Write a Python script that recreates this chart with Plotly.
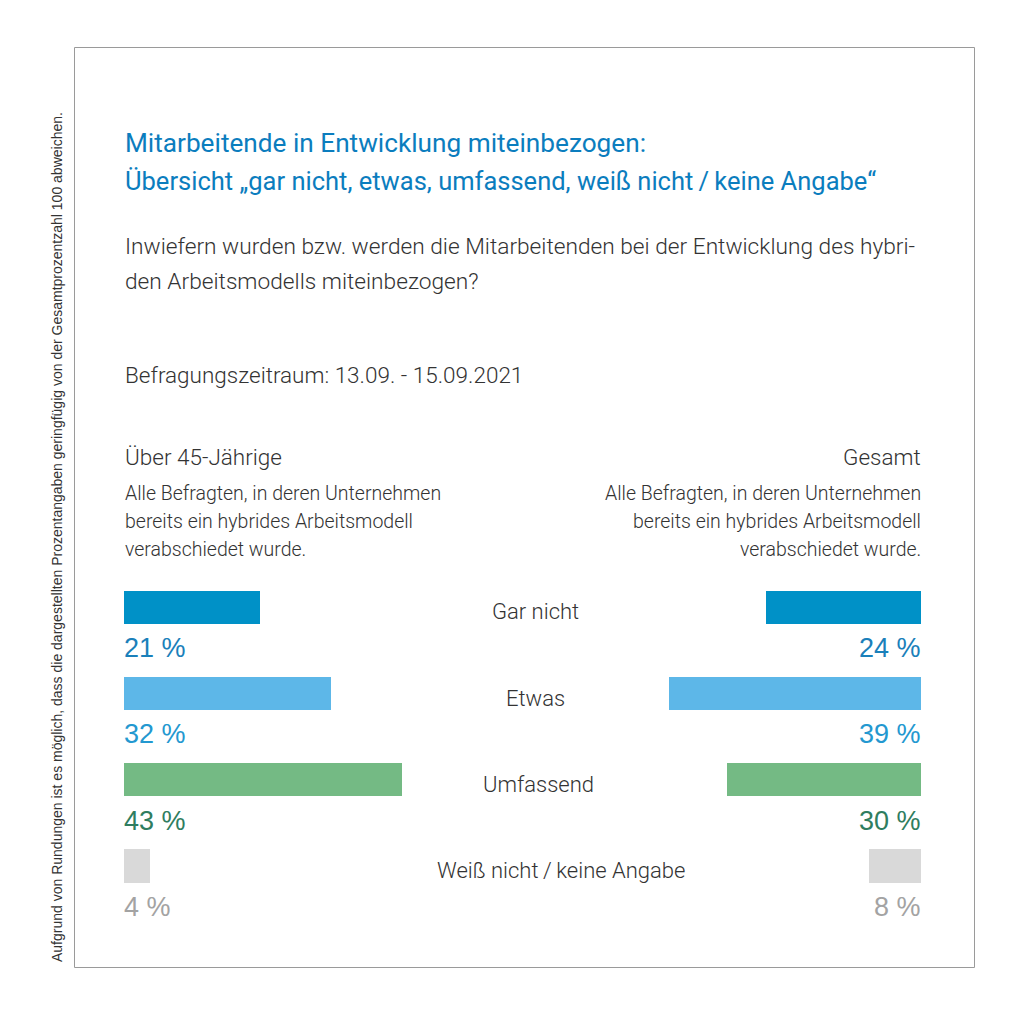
import plotly.graph_objects as go

categories = ["Gar nicht", "Etwas", "Umfassend", "Weiß nicht / keine Angabe"]
ueber45 = [21, 32, 43, 4]
gesamt = [24, 39, 30, 8]
bar_colors = ["#0091C7", "#5DB7E8", "#74BA84", "#D9D9D9"]
label_colors = ["#1A80BA", "#2398D0", "#2F7D60", "#A3A3A3"]

W, H = 1024, 1017
OFF = 8  # page body margin
def px(x):
    return (x - OFF) / W
def py(y):
    return 1 - (y - OFF) / H

FONT = "Roboto"
TXT = "#333333"

fig = go.Figure()
ypos = list(range(len(categories)))

fig.add_trace(go.Bar(x=ueber45, y=ypos, orientation="h", marker=dict(color=bar_colors, line=dict(width=0)),
                     width=0.385, xaxis="x", yaxis="y", hoverinfo="skip", showlegend=False))
fig.add_trace(go.Bar(x=gesamt, y=ypos, orientation="h", marker=dict(color=bar_colors, line=dict(width=0)),
                     width=0.385, xaxis="x2", yaxis="y", hoverinfo="skip", showlegend=False))

for i in ypos:
    fig.add_annotation(x=0, y=i + 0.47, xref="x", yref="y", text=f"{ueber45[i]} %", showarrow=False,
                       xanchor="left", yanchor="middle", xshift=-2,
                       font=dict(family="Liberation Sans", size=27, color=label_colors[i]))
    fig.add_annotation(x=0, y=i + 0.47, xref="x2", yref="y", text=f"{gesamt[i]} %", showarrow=False,
                       xanchor="right", yanchor="middle", xshift=2,
                       font=dict(family="Liberation Sans", size=27, color=label_colors[i]))

cat_x = [535, 535, 538, 561]
for i, c in enumerate(categories):
    label = c.replace(" / ", "\u2009/\u2009")
    fig.add_annotation(x=px(cat_x[i]), y=i + 0.05, xref="paper", yref="y", text=label, showarrow=False,
                       xanchor="center", yanchor="middle",
                       font=dict(family=FONT, size=22, color=TXT, weight=300))

def txt(x, y, s, size, color=TXT, anchor="left", weight=300, family=FONT, angle=0, xshift=0):
    fig.add_annotation(x=px(x), y=py(y), xref="paper", yref="paper", text=s, showarrow=False,
                       xanchor=anchor, yanchor="middle", textangle=angle, xshift=xshift,
                       font=dict(family=family, size=size, color=color, weight=weight))

BLUE = "#0B7DBE"
txt(124, 143, "Mitarbeitende in Entwicklung miteinbezogen:", 26.2, BLUE, weight=400, xshift=-1)
txt(124, 181, "Übersicht „gar nicht, etwas, umfassend, weiß nicht\u2009/\u2009keine Angabe“", 25.5, BLUE, weight=400, xshift=-1)
txt(124, 246, "Inwiefern wurden bzw. werden die Mitarbeitenden bei der Entwicklung des hybri-", 22.7, xshift=-1)
txt(124, 281, "den Arbeitsmodells miteinbezogen?", 22.7, xshift=-1)
txt(124, 375, "Befragungszeitraum: 13.09. - 15.09.2021", 22.5, xshift=-1)
txt(124, 457, "Über 45-Jährige", 22.5, xshift=-1)
txt(921, 457, "Gesamt", 22.5, anchor="right", xshift=2)
sub = ["Alle Befragten, in deren Unternehmen", "bereits ein hybrides Arbeitsmodell", "verabschiedet wurde."]
for k, s in enumerate(sub):
    txt(124, 493 + 28 * k, s, 19.5, xshift=-1)
    txt(921, 493 + 28 * k, s, 19.5, anchor="right", xshift=2)

txt(57, 537, "Aufgrund von Rundungen ist es möglich, dass die dargestellten Prozentangaben geringfügig von der Gesamtprozentzahl 100 abweichen.",
    14, "#333333", anchor="center", weight=400, family="Liberation Sans", angle=-90)

fig.add_shape(type="rect", xref="paper", yref="paper", x0=px(74.5), x1=px(974.5), y0=py(967.5), y1=py(47.5),
              line=dict(color="#9A9A9A", width=1), fillcolor="rgba(0,0,0,0)")

unit = 86.3
center0 = 607.5
top = center0 - 0.5 * unit
bottom = center0 + 3.5 * unit
scale = 6.47
fig.update_layout(
    width=W, height=H, margin=dict(l=0, r=0, t=0, b=0),
    paper_bgcolor="white", plot_bgcolor="white",
    xaxis=dict(domain=[px(124), px(512)], range=[0, (512 - 124) / scale], visible=False, fixedrange=True),
    xaxis2=dict(domain=[px(512), px(921)], range=[(921 - 512) / scale, 0], visible=False, fixedrange=True),
    yaxis=dict(domain=[py(bottom), py(top)], range=[3.5, -0.5], visible=False, fixedrange=True),
    bargap=0,
)

fig.write_html("out.html")
